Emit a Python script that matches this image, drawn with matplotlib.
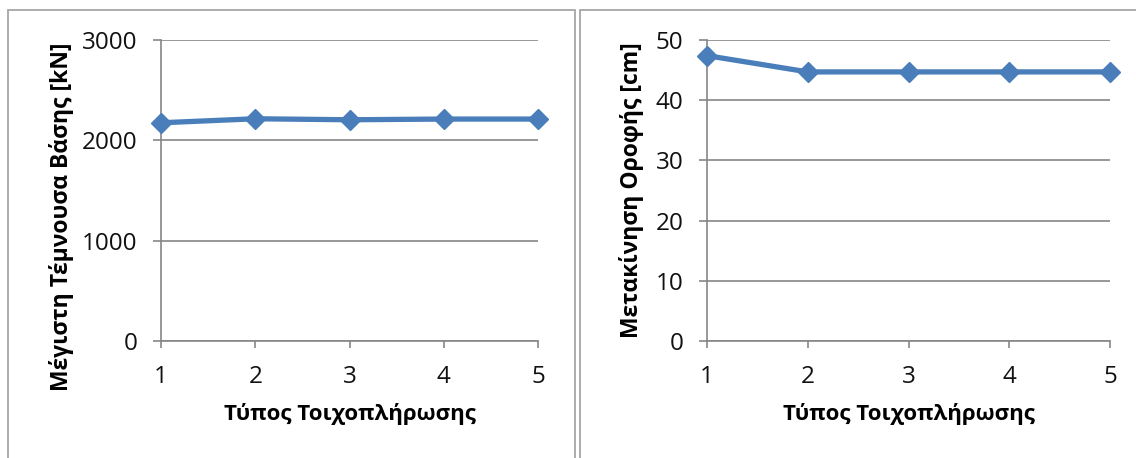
import matplotlib
matplotlib.use("Agg")
import matplotlib.pyplot as plt
from matplotlib.patches import Rectangle
from matplotlib.ticker import MultipleLocator

plt.rcParams['font.family'] = ['Open Sans', 'DejaVu Sans']

# Data
infill_types = [1, 2, 3, 4, 5]
base_shear = [2175, 2215, 2205, 2212, 2212]          # kN
roof_displacement = [47.4, 44.7, 44.7, 44.7, 44.7]   # cm

x_label = "Τύπος Τοιχοπλήρωσης"
y_label_left = "Μέγιστη Τέμνουσα Βάσης [kN]"
y_label_right = "Μετακίνηση Οροφής [cm]"

W, H = 1136, 458
fig = plt.figure(figsize=(W / 100, H / 100), dpi=100)
fig.patch.set_facecolor("white")

LINE = "#4a7ebb"
GRID = "#868686"
FRAME = "#a6a6a6"


def px_axes(x0, x1, y_top, y_bot):
    return fig.add_axes([x0 / W, (H - y_bot) / H, (x1 - x0) / W, (y_bot - y_top) / H])


# Chart frames
fig.add_artist(Rectangle((8 / W, -0.1), (575 - 8) / W, 1.1 - 10 / H,
                         transform=fig.transFigure, fill=False,
                         edgecolor=FRAME, lw=1.3))
fig.add_artist(Rectangle((580 / W, -0.1), (1160 - 580) / W, 1.1 - 10 / H,
                         transform=fig.transFigure, fill=False,
                         edgecolor=FRAME, lw=1.3))


def style(ax, ymax, ystep, ylabel, ylabel_x, ylabel_y):
    ax.set_xlim(1, 5)
    ax.set_ylim(0, ymax)
    ax.xaxis.set_major_locator(MultipleLocator(1))
    ax.yaxis.set_major_locator(MultipleLocator(ystep))
    ax.grid(axis="y", color=GRID, lw=1.2)
    ax.set_axisbelow(True)
    for s in ("top", "right"):
        ax.spines[s].set_visible(False)
    for s in ("left", "bottom"):
        ax.spines[s].set_color(GRID)
        ax.spines[s].set_linewidth(1.2)
    ax.tick_params(axis="y", length=6, width=1.2, color=GRID, pad=11,
                   labelsize=17.5, labelcolor="#111111")
    ax.tick_params(axis="x", length=5, width=1.2, color=GRID, pad=12,
                   labelsize=17.5, labelcolor="#111111")
    ax.set_xlabel(x_label, fontsize=16, fontweight="bold", va="center")
    ax.xaxis.set_label_coords(0.5, (341 - 414) / 301)
    ax.set_ylabel(ylabel, fontsize=16.5, fontweight="bold", va="center")
    ax.yaxis.set_label_coords(ylabel_x, ylabel_y)


ax1 = px_axes(161, 538, 40, 341)
style(ax1, 3000, 1000, y_label_left, (62 - 161) / 377, (341 - 217) / 301)
ax1.plot(infill_types, base_shear, color=LINE, lw=3.8, marker="D",
         markersize=10.5, clip_on=False, zorder=5)

ax2 = px_axes(707, 1110, 40, 341)
style(ax2, 50, 10, y_label_right, (632 - 707) / 403, (341 - 190) / 301)
ax2.plot(infill_types, roof_displacement, color=LINE, lw=3.8, marker="D",
         markersize=10.5, clip_on=False, zorder=5)

fig.savefig("out.png", dpi=100)
